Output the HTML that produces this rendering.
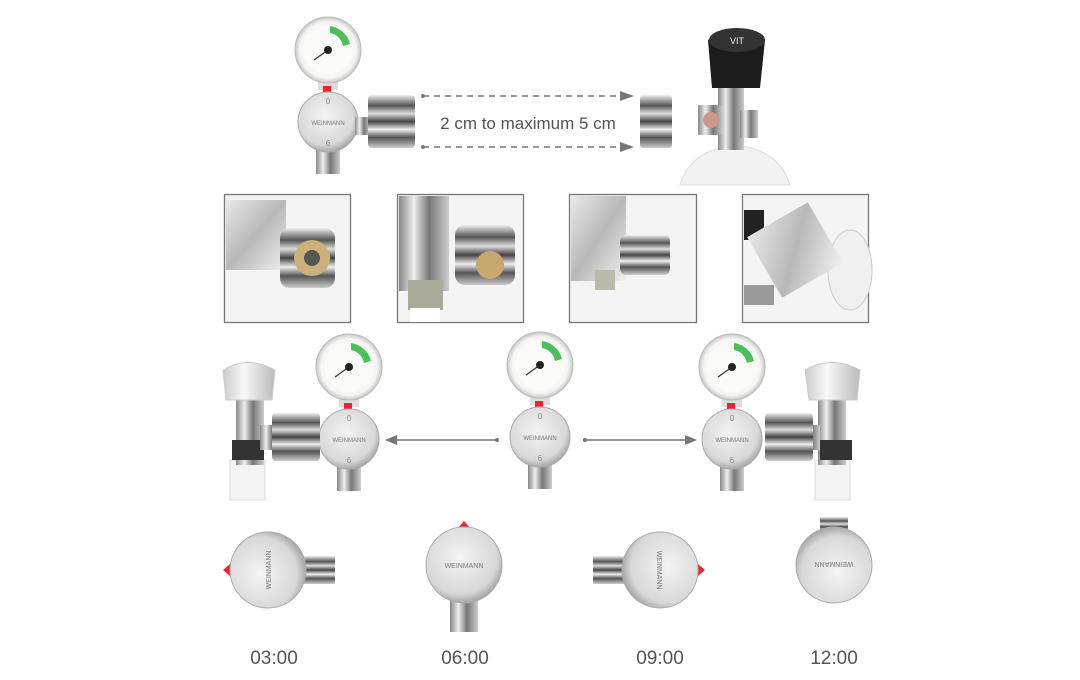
<!DOCTYPE html>
<html><head><meta charset="utf-8"><style>
html,body{margin:0;padding:0;background:#fff}
svg{display:block}
text{font-family:"Liberation Sans",sans-serif}
</style></head><body>
<svg width="1080" height="680" viewBox="0 0 1080 680" xmlns="http://www.w3.org/2000/svg">
<defs>
<radialGradient id="dialG" cx="45%" cy="40%" r="60%"><stop offset="0" stop-color="#f4f4f4"/><stop offset="0.8" stop-color="#d8d8d8"/><stop offset="1" stop-color="#a8a8a8"/></radialGradient>
<radialGradient id="gaugeG" cx="50%" cy="50%" r="50%"><stop offset="0.85" stop-color="#f6f6f4"/><stop offset="1" stop-color="#c8c8c8"/></radialGradient>
<linearGradient id="chrome" x1="0" y1="0" x2="0" y2="1"><stop offset="0" stop-color="#eee"/><stop offset="0.2" stop-color="#555"/><stop offset="0.35" stop-color="#ddd"/><stop offset="0.5" stop-color="#444"/><stop offset="0.65" stop-color="#eee"/><stop offset="0.8" stop-color="#555"/><stop offset="1" stop-color="#ccc"/></linearGradient>
<linearGradient id="chromeV" x1="0" y1="0" x2="1" y2="0"><stop offset="0" stop-color="#888"/><stop offset="0.3" stop-color="#eee"/><stop offset="0.6" stop-color="#777"/><stop offset="1" stop-color="#ccc"/></linearGradient>
<linearGradient id="photo" x1="0" y1="0" x2="1" y2="1"><stop offset="0" stop-color="#e8e8e8"/><stop offset="0.5" stop-color="#b8b8b8"/><stop offset="1" stop-color="#f0f0f0"/></linearGradient>
<linearGradient id="capG" x1="0" y1="0" x2="1" y2="0"><stop offset="0" stop-color="#ccc"/><stop offset="0.4" stop-color="#f8f8f8"/><stop offset="1" stop-color="#bbb"/></linearGradient>
<g id="gauge">
<circle r="33" fill="url(#gaugeG)" stroke="#bbb"/>
<circle r="25" fill="#fafaf8"/>
<path d="M2,-24 A24,24 0 0,1 22,-6 L15,-4 A16,16 0 0,0 2,-17 Z" fill="#4cbf5a"/>
<line x1="0" y1="0" x2="-14" y2="10" stroke="#333" stroke-width="1.2"/>
<circle r="4" fill="#222"/>
</g>
<g id="dial">
<rect x="-12" y="22" width="24" height="30" fill="url(#chromeV)"/>
<circle r="30" fill="url(#dialG)" stroke="#aaa"/>
<text x="0" y="3" font-size="6" text-anchor="middle" fill="#777">WEINMANN</text>
<text x="0" y="-18" font-size="8" text-anchor="middle" fill="#888">0</text>
<text x="0" y="24" font-size="8" text-anchor="middle" fill="#888">6</text>
</g>
<g id="reg">
<rect x="-10" y="30" width="20" height="10" fill="#ddd"/>
<rect x="-5" y="36" width="8" height="6" fill="#e23"/>
<use href="#gauge"/>
<use href="#dial" y="72"/>
</g>
</defs>

<!-- top regulator -->
<g transform="translate(332,50)">
<use href="#reg" transform="translate(-4,0)"/>
</g>
<rect x="355" y="117" width="15" height="18" fill="url(#chromeV)"/>
<rect x="368" y="95" width="47" height="53" rx="4" fill="url(#chrome)"/>
<!-- dashed arrows -->
<g stroke="#777" stroke-width="1.5" stroke-dasharray="6,5">
<line x1="423" y1="96" x2="622" y2="96"/><line x1="423" y1="147" x2="622" y2="147"/>
</g>
<circle cx="423" cy="96" r="2" fill="#777"/><circle cx="423" cy="147" r="2" fill="#777"/>
<path d="M620,91 L634,96 L620,101Z M620,142 L634,147 L620,152Z" fill="#777"/>
<text x="528" y="129" font-size="17" fill="#555" text-anchor="middle">2 cm to maximum 5 cm</text>
<rect x="640" y="95" width="32" height="53" rx="3" fill="url(#chrome)"/>
<!-- cylinder valve -->
<path d="M680,185 Q690,150 735,145 Q780,150 790,185Z" fill="#f2f2f2" stroke="#ddd"/>
<rect x="718" y="85" width="26" height="65" fill="url(#chromeV)"/>
<rect x="698" y="105" width="25" height="30" fill="url(#chromeV)"/>
<circle cx="711" cy="120" r="8" fill="#c98"/>
<rect x="740" y="110" width="18" height="28" fill="url(#chromeV)"/>
<path d="M708,40 Q735,22 765,40 L760,88 L712,88Z" fill="#1c1c1c"/>
<ellipse cx="737" cy="40" rx="28" ry="12" fill="#333"/>
<text x="737" y="44" font-size="9" fill="#eee" text-anchor="middle">VIT</text>

<!-- photo boxes -->
<g stroke="#777" stroke-width="1.3">
<rect x="224.5" y="194.5" width="126" height="128" fill="#f4f4f4"/>
<rect x="397.5" y="194.5" width="126" height="128" fill="#f4f4f4"/>
<rect x="569.5" y="194.5" width="127" height="128" fill="#f4f4f4"/>
<rect x="742.5" y="194.5" width="126" height="128" fill="#f4f4f4"/>
</g>
<g>
<rect x="226" y="200" width="60" height="70" fill="url(#photo)"/>
<rect x="280" y="228" width="55" height="60" rx="10" fill="url(#chrome)"/>
<circle cx="312" cy="258" r="18" fill="#ccb27a"/><circle cx="312" cy="258" r="8" fill="#555"/>
<rect x="399" y="196" width="50" height="95" fill="url(#chromeV)"/>
<rect x="455" y="225" width="60" height="60" rx="10" fill="url(#chrome)"/>
<circle cx="490" cy="265" r="14" fill="#c9a870"/>
<rect x="408" y="280" width="35" height="30" fill="#aa9"/>
<rect x="410" y="308" width="30" height="14" fill="#fff"/>
<rect x="571" y="196" width="55" height="85" fill="url(#photo)"/>
<rect x="620" y="235" width="50" height="40" rx="6" fill="url(#chrome)"/>
<rect x="595" y="270" width="20" height="20" fill="#bba"/>
<ellipse cx="850" cy="270" rx="22" ry="40" fill="#f0f0f0" stroke="#ccc"/>
<rect x="744" y="210" width="20" height="30" fill="#222"/>
<rect x="760" y="215" width="70" height="70" fill="url(#photo)" transform="rotate(-30 795 250)"/>
<rect x="744" y="285" width="30" height="20" fill="#999"/>
</g>

<!-- middle row -->
<use href="#reg" transform="translate(349,367)"/>
<use href="#reg" transform="translate(540,365)"/>
<use href="#reg" transform="translate(732,367)"/>
<!-- left valve -->
<rect x="230" y="460" width="35" height="40" fill="#f4f4f4" stroke="#ddd"/>
<rect x="236" y="400" width="28" height="65" fill="url(#chromeV)"/>
<rect x="232" y="440" width="32" height="20" fill="#333"/>
<rect x="260" y="425" width="20" height="25" fill="url(#chromeV)"/>
<rect x="272" y="413" width="48" height="48" rx="4" fill="url(#chrome)"/>
<path d="M223,370 Q248,355 275,370 L272,400 L226,400Z" fill="url(#capG)" stroke="#ccc"/>
<!-- right valve -->
<rect x="815" y="460" width="35" height="40" fill="#f4f4f4" stroke="#ddd"/>
<rect x="818" y="400" width="28" height="65" fill="url(#chromeV)"/>
<rect x="820" y="440" width="32" height="20" fill="#333"/>
<rect x="800" y="425" width="20" height="25" fill="url(#chromeV)"/>
<rect x="765" y="413" width="48" height="48" rx="4" fill="url(#chrome)"/>
<path d="M805,370 Q832,355 860,370 L857,400 L809,400Z" fill="url(#capG)" stroke="#ccc"/>
<!-- arrows -->
<line x1="395" y1="440" x2="497" y2="440" stroke="#777" stroke-width="1.5"/>
<circle cx="497" cy="440" r="2" fill="#777"/>
<path d="M385,440 L397,435 L397,445Z" fill="#777"/>
<line x1="585" y1="440" x2="687" y2="440" stroke="#777" stroke-width="1.5"/>
<circle cx="585" cy="440" r="2" fill="#777"/>
<path d="M697,440 L685,435 L685,445Z" fill="#777"/>

<!-- bottom row -->
<g transform="translate(268,570)">
<rect x="35" y="-14" width="32" height="28" fill="url(#chrome)"/>
<path d="M-45,0 L-38,-6 L-38,6Z" fill="#e23"/>
<g transform="rotate(-90)"><circle r="38" fill="url(#dialG)" stroke="#aaa"/><text y="3" font-size="7" text-anchor="middle" fill="#777">WEINMANN</text></g>
</g>
<g transform="translate(464,565)">
<rect x="-14" y="35" width="28" height="32" fill="url(#chromeV)"/>
<path d="M-6,-37 L0,-44 L6,-37Z" fill="#e23"/>
<circle r="38" fill="url(#dialG)" stroke="#aaa"/><text y="3" font-size="7" text-anchor="middle" fill="#777">WEINMANN</text>
</g>
<g transform="translate(660,570)">
<rect x="-67" y="-14" width="32" height="28" fill="url(#chrome)"/>
<path d="M45,0 L38,-6 L38,6Z" fill="#e23"/>
<g transform="rotate(90)"><circle r="38" fill="url(#dialG)" stroke="#aaa"/><text y="3" font-size="7" text-anchor="middle" fill="#777">WEINMANN</text></g>
</g>
<g transform="translate(834,565)">
<rect x="-14" y="-48" width="28" height="20" fill="url(#chrome)"/>
<g transform="rotate(180)"><circle r="38" fill="url(#dialG)" stroke="#aaa"/><text y="3" font-size="7" text-anchor="middle" fill="#777">WEINMANN</text></g>
</g>

<g font-size="19" fill="#555" text-anchor="middle">
<text x="274" y="664">03:00</text>
<text x="465" y="664">06:00</text>
<text x="660" y="664">09:00</text>
<text x="834" y="664">12:00</text>
</g>
</svg>
</body></html>
